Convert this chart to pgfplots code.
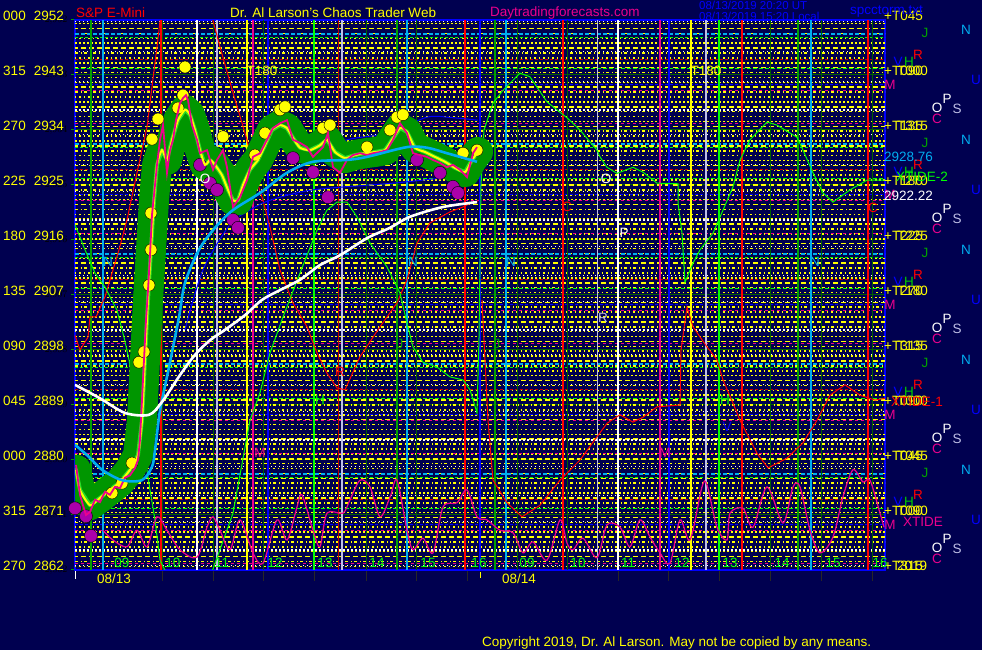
\documentclass[border=0pt]{standalone}
\usepackage{pgfplots}
\pgfplotsset{compat=1.18}
\usepackage{fontspec}
\setmainfont{Liberation Sans}

\definecolor{bg}{RGB}{0,0,80}
\definecolor{lime}{RGB}{0,255,0}
\definecolor{dkgreen}{RGB}{0,95,0}
\definecolor{midgreen}{RGB}{0,160,0}
\definecolor{glow}{RGB}{0,150,0}
\definecolor{glowin}{RGB}{40,220,40}
\definecolor{purp}{RGB}{170,0,170}
\definecolor{pale}{RGB}{190,190,230}
\definecolor{myblue}{RGB}{0,0,255}
\definecolor{dimred}{RGB}{190,0,0}
\definecolor{yel}{RGB}{255,255,0}

% vertical line at x, horizontal lines at a list of prices
\newcommand\vl[2]{\addplot[#1] coordinates {(#2,2862) (#2,2952)};}
\newcommand\hl[2]{\pgfplotsinvokeforeach{#2}{\addplot[#1] coordinates {(75,##1) (885,##1)};}}
\newcommand\txt{\fontsize{13.5}{14}\selectfont}

\begin{document}
\begin{tikzpicture}
\fill[bg] (-75pt,-80pt) rectangle (907pt,570pt);
\path[use as bounding box] (-75pt,-80pt) rectangle (907pt,570pt);
\begin{axis}[
  at={(0pt,0pt)}, anchor=south west,
  width=810pt, height=550pt, scale only axis,
  xmin=75, xmax=885, ymin=2862, ymax=2952,
  axis line style={myblue, line width=2pt},
  clip mode=individual,
  xtick=\empty,
  ytick={2862,2871,...,2952}, yticklabel={},
  ytick pos=left, tick align=outside, major tick length=4pt,
  ytick style={midgreen, line width=1pt},
  ymajorgrids, grid style={dkgreen, line width=1pt},
]
% dotted yellow level lines
\hl{yel, line width=1.5pt, dash pattern=on 2pt off 2pt}{2951.4,2948.2,2945.0,2941.8,2938.6,2935.4,2932.2,2929.0,2925.8,2922.6,2919.4,2916.2,2913.0,2909.8,2906.6,2903.4,2900.2,2897.0,2893.8,2890.6,2887.4,2884.2,2881.0,2877.8,2874.6,2871.4,2868.2,2865.0}
\hl{yel, line width=1.5pt, dash pattern=on 5pt off 3pt, dash phase=2pt}{2950.6,2947.4,2944.2,2941.0,2937.8,2934.6,2931.4,2928.2,2925.0,2921.8,2918.6,2915.4,2912.2,2909.0,2905.8,2902.6,2899.4,2896.2,2893.0,2889.8,2886.6,2883.4,2880.2,2877.0,2873.8,2870.6,2867.4,2864.2}
\hl{yel, line width=1.5pt, dash pattern=on 3pt off 3pt on 1pt off 2pt}{2949.8,2946.6,2943.4,2940.2,2937.0,2933.8,2930.6,2927.4,2924.2,2921.0,2917.8,2914.6,2911.4,2908.2,2905.0,2901.8,2898.6,2895.4,2892.2,2889.0,2885.8,2882.6,2879.4,2876.2,2873.0,2869.8,2866.6,2863.4}
\hl{yel, line width=1.5pt, dash pattern=on 1.5pt off 3pt}{2949.0,2945.8,2942.6,2939.4,2936.2,2933.0,2929.8,2926.6,2923.4,2920.2,2917.0,2913.8,2910.6,2907.4,2904.2,2901.0,2897.8,2894.6,2891.4,2888.2,2885.0,2881.8,2878.6,2875.4,2872.2,2869.0,2865.8,2862.6}
\hl{white, line width=1.2pt, dash pattern=on 1pt off 3pt}{2951.8,2946.8,2942.0,2933.2,2928.4,2924.0,2915.0,2910.2,2906.0,2897.2,2892.4,2888.0,2879.0,2874.2,2870.0,2862.8}
% coloured harmonic levels
\hl{cyan, line width=1.2pt, dash pattern=on 4pt off 2pt}{2949.7,2931.7,2913.7,2895.7,2877.7}
\hl{lime, line width=1.2pt, dash pattern=on 3pt off 2pt}{2949.1,2931.1,2913.1,2895.1,2877.1}
\hl{dimred, line width=1.2pt, dash pattern=on 3pt off 2pt}{2945.5,2927.5,2909.5,2891.5,2873.5}
\hl{lime, line width=1.2pt, dash pattern=on 4pt off 2pt}{2944.1,2926.1,2908.1,2890.1,2872.1}
\hl{myblue, line width=1.2pt, dash pattern=on 3pt off 2pt}{2941.4,2923.4,2905.4,2887.4,2869.4}
\hl{magenta, line width=1.2pt, dash pattern=on 3pt off 3pt}{2940.5,2922.5,2904.5,2886.5,2868.5}
\hl{white, line width=1.5pt, dash pattern=on 2pt off 2pt}{2937.3,2919.3,2901.3,2883.3,2865.3}
\hl{magenta, line width=1.2pt, dash pattern=on 3pt off 3pt}{2935.1,2917.1,2899.1,2881.1,2863.1}
% hour grid
\vl{dkgreen, line width=1pt}{162} \vl{dkgreen, line width=1pt}{213} \vl{dkgreen, line width=1pt}{263}
\vl{dkgreen, line width=1pt}{366} \vl{dkgreen, line width=1pt}{416} \vl{dkgreen, line width=1pt}{517}
\vl{dkgreen, line width=1pt}{567} \vl{dkgreen, line width=1pt}{668} \vl{dkgreen, line width=1pt}{770}
\vl{dkgreen, line width=1pt}{821} \vl{dkgreen, line width=1pt}{872}
% time lines
\vl{midgreen, line width=1.2pt}{91} \vl{cyan, line width=1.2pt}{103} \vl{red, line width=1.4pt}{161}
\vl{white, line width=1.2pt}{197} \vl{pale, line width=1.2pt}{217} \vl{yel, line width=1.4pt}{247}
\vl{magenta, line width=1.4pt}{253} \vl{myblue, line width=1.4pt}{268} \vl{lime, line width=1.2pt}{314}
\vl{dimred, line width=1pt}{338} \vl{pale, line width=1.2pt}{342} \vl{midgreen, line width=1.2pt}{397}
\vl{cyan, line width=1.2pt}{407} \vl{red, line width=1.4pt}{465} \vl{myblue, line width=1.6pt}{480}
\vl{midgreen, line width=1.2pt}{495} \vl{cyan, line width=1.2pt}{506} \vl{red, line width=1.2pt}{563}
\vl{pale, line width=1pt}{597} \vl{white, line width=1.2pt}{618}
\vl{magenta, line width=1.2pt}{660} \vl{myblue, line width=1.2pt}{669} \vl{yel, line width=1.4pt}{691}
\vl{pale, line width=1.2pt}{706} \vl{lime, line width=1.2pt}{719} \vl{red, line width=1.2pt}{742}
\vl{midgreen, line width=1.2pt}{798} \vl{cyan, line width=1.4pt}{811} \vl{red, line width=1.2pt}{868}
% forecast lines
\addplot[red, line width=1pt] coordinates {(75,2900.4) (80,2898.0) (88,2900.1) (90,2903.4) (96,2903.4) (105,2906.7) (119,2914.4) (127,2919.3) (137,2927.0) (147,2934.5) (157,2947.6) (162,2954.5)};
\addplot[red, line width=1pt] coordinates {(210,2955) (212,2952.5) (220,2947.6) (233,2940.1) (247,2932.4) (258,2925.0) (263,2922.5) (270,2918.1) (280,2911.1) (293,2905.7) (307,2901.8) (317,2897.5) (327,2894.2) (337,2891.8) (345,2891.5) (360,2896.9) (380,2901.8) (397,2905.7) (407,2909.5) (417,2915.5) (430,2918.8) (450,2920.6) (463,2921.4) (470,2922.0) (478,2922.4)};
\addplot[red, line width=1pt] coordinates {(482,2906.2) (488,2886.5) (493,2876.7) (507,2873.0) (522,2870.7) (540,2872.6) (560,2876.7) (580,2880.0) (597,2883.8) (607,2886.0) (620,2887.4) (633,2886.2) (643,2887.0) (657,2888.7) (680,2889.0) (681,2898.0) (687,2905.0) (693,2901.8) (707,2898.5) (717,2896.4) (723,2893.1) (733,2889.3) (740,2886.5) (757,2881.1) (768,2878.7) (787,2880.3) (803,2882.8) (817,2886.5) (830,2890.6) (845,2892.3) (860,2890.6) (875,2889.8) (885,2890.1)};
\addplot[lime, line width=1pt] coordinates {(75,2918.5) (85,2914.4) (95,2910.6) (105,2908.3) (117,2904.5) (124,2900.1) (129,2896.4) (134,2891.5) (140,2886.1) (145,2880.5) (150,2875.1) (155,2870.2) (160,2863.6) (168,2861.0) (205,2861.0) (212,2861.7) (233,2871.3) (250,2886.5) (260,2891.0) (270,2897.5) (283,2903.4) (300,2910.6) (317,2917.6) (327,2920.9) (337,2922.2) (347,2922.2) (357,2919.8) (370,2915.5) (387,2911.6) (400,2907.3) (407,2902.4) (413,2898.5) (423,2896.0) (437,2895.2) (450,2893.6) (463,2893.1) (470,2891.5) (477,2887.7) (479,2900.0) (481,2925.0) (484,2934.0) (493,2938.4) (503,2940.5) (520,2943.3) (530,2942.7) (547,2938.6) (567,2936.0) (580,2934.0) (597,2930.7) (600,2929.6) (607,2927.9) (617,2926.9) (633,2927.9) (643,2927.1) (657,2925.3) (678,2925.2) (678,2922.1) (682,2917.1) (685,2909.1) (693,2912.2) (700,2914.4) (713,2917.1) (723,2920.9) (733,2924.7) (740,2929.1) (750,2932.4) (767,2935.3) (777,2934.8) (797,2932.8) (803,2930.7) (813,2927.0) (823,2923.7) (833,2922.2) (850,2924.2) (867,2925.8) (885,2925.8)};
\addplot[myblue, line width=1pt, smooth] coordinates {(185,2901.3) (203,2911.1) (230,2918.5) (250,2920.9) (270,2922.5) (313,2924.2) (393,2925.3) (440,2926.1) (478,2926.6)};
\addplot[myblue, line width=1pt, smooth] coordinates {(300,2929.5) (347,2932.4) (390,2933.5) (427,2936.1) (453,2936.0) (478,2935.6)};
\addplot[magenta, line width=1.2pt, smooth, tension=0.5] coordinates {(103,2868.5) (113,2866.9) (127,2865.8) (137,2868.5) (147,2865.8) (157,2870.7) (167,2868.5) (180,2865.3) (197,2864.1) (207,2869.0) (213,2870.7) (220,2868.5) (230,2865.3) (240,2870.2) (253,2864.8) (263,2863.1) (277,2870.2) (287,2866.9) (297,2872.3) (302,2874.3) (313,2868.5) (320,2865.8) (327,2871.3) (343,2871.3) (350,2873.5) (360,2876.7) (370,2875.6) (380,2870.7) (390,2873.9) (397,2876.7) (407,2868.5) (413,2865.3) (423,2867.2) (433,2864.8) (443,2872.3) (457,2873.0) (467,2875.1) (477,2870.7) (487,2870.2) (500,2868.5) (513,2868.1) (523,2864.8) (533,2866.6) (547,2863.6) (560,2870.2) (567,2866.4) (573,2865.3) (583,2867.2) (597,2864.0) (607,2869.4) (620,2869.0) (630,2865.8) (640,2870.2) (650,2867.4) (660,2864.8) (670,2863.1) (680,2870.2) (690,2866.9) (702,2875.6) (707,2875.9) (717,2869.0) (727,2866.9) (730,2871.3) (743,2872.1) (753,2869.0) (767,2875.6) (783,2869.7) (793,2875.6) (800,2875.6) (810,2868.5) (820,2864.8) (833,2867.4) (843,2874.0) (853,2878.4) (863,2876.4) (870,2876.7) (880,2871.3) (884,2869.0)};
% price glow
\addplot[glow, line width=30pt, line join=round, line cap=round] coordinates {(76,2878.4) (80,2875.1) (90,2872.6) (100,2873.8) (110,2875.1) (120,2876.4) (130,2878.4) (138,2880.8) (142,2886.5) (145,2896.4) (148,2906.2) (151,2914.4) (154,2922.5) (157,2928.3) (162,2930.7) (167,2929.1) (172,2932.4) (178,2935.6) (185,2937.3) (190,2936.5) (195,2934.0) (200,2930.7) (205,2928.3) (210,2929.1) (215,2928.3) (222,2926.6) (228,2924.2) (233,2922.5) (238,2922.5) (243,2925.0) (250,2927.5) (258,2929.1) (265,2931.5) (272,2934.0) (280,2934.8) (287,2934.3) (293,2932.7) (300,2931.1) (310,2930.7) (320,2931.5) (327,2932.4) (335,2930.4) (345,2929.4) (355,2929.9) (365,2930.2) (375,2930.4) (385,2930.7) (392,2932.4) (400,2934.3) (407,2933.7) (415,2931.1) (425,2930.4) (435,2929.6) (445,2928.8) (455,2927.8) (465,2927.1) (472,2929.1) (478,2930.4)};
\addplot[glowin, line width=4pt, line join=round, line cap=round] coordinates {(76,2878.4) (80,2875.1) (90,2872.6) (100,2873.8) (110,2875.1) (120,2876.4) (130,2878.4) (138,2880.8) (142,2886.5) (145,2896.4) (148,2906.2) (151,2914.4) (154,2922.5) (157,2928.3) (162,2930.7) (167,2929.1) (172,2932.4) (178,2935.6) (185,2937.3) (190,2936.5) (195,2934.0) (200,2930.7) (205,2928.3) (210,2929.1) (215,2928.3) (222,2926.6) (228,2924.2) (233,2922.5) (238,2922.5) (243,2925.0) (250,2927.5) (258,2929.1) (265,2931.5) (272,2934.0) (280,2934.8) (287,2934.3) (293,2932.7) (300,2931.1) (310,2930.7) (320,2931.5) (327,2932.4) (335,2930.4) (345,2929.4) (355,2929.9) (365,2930.2) (375,2930.4) (385,2930.7) (392,2932.4) (400,2934.3) (407,2933.7) (415,2931.1) (425,2930.4) (435,2929.6) (445,2928.8) (455,2927.8) (465,2927.1) (472,2929.1) (478,2930.4)};
% dots
\addplot[only marks, mark=*, mark size=6.5pt, mark options={draw=none, fill=purp}] coordinates {(75,2872.1) (86,2870.8) (91,2867.6) (200,2928.3) (210,2925.3) (217,2924.2) (233,2919.3) (238,2918.0) (293,2929.4) (313,2927.1) (328,2923.0) (417,2929.1) (440,2927.0) (453,2924.7) (458,2923.7)};
\addplot[only marks, mark=*, mark size=6pt, mark options={draw=none, fill=yel}] coordinates {(112,2874.6) (122,2876.2) (132,2879.5) (139,2896.0) (144,2897.7) (149,2908.6) (151,2914.4) (151,2920.4) (152,2932.5) (158,2935.8) (178,2937.6) (183,2939.7) (185,2944.3) (223,2932.9) (255,2929.9) (265,2933.5) (280,2937.3) (285,2937.8) (323,2934.3) (330,2934.8) (367,2931.2) (390,2934.0) (397,2936.1) (403,2936.5) (463,2930.2) (477,2930.7)};
% smoothed price and close
\addplot[yel, line width=2pt, smooth, tension=0.4] coordinates {(76,2878.4) (80,2875.1) (90,2872.6) (100,2873.8) (110,2875.1) (120,2876.4) (130,2878.4) (138,2880.8) (142,2886.5) (145,2896.4) (148,2906.2) (151,2914.4) (154,2922.5) (157,2928.3) (162,2930.7) (167,2929.1) (172,2932.4) (178,2935.6) (185,2937.3) (190,2936.5) (195,2934.0) (200,2930.7) (205,2928.3) (210,2929.1) (215,2928.3) (222,2926.6) (228,2924.2) (233,2922.5) (238,2922.5) (243,2925.0) (250,2927.5) (258,2929.1) (265,2931.5) (272,2934.0) (280,2934.8) (287,2934.3) (293,2932.7) (300,2931.1) (310,2930.7) (320,2931.5) (327,2932.4) (335,2930.4) (345,2929.4) (355,2929.9) (365,2930.2) (375,2930.4) (385,2930.7) (392,2932.4) (400,2934.3) (407,2933.7) (415,2931.1) (425,2930.4) (435,2929.6) (445,2928.8) (455,2927.8) (465,2927.1) (472,2929.1) (478,2930.4)};
\addplot[magenta, line width=1.8pt] coordinates {(76,2879.2) (78,2876.7) (80,2874.3) (83,2872.6) (86,2871.0) (90,2871.5) (95,2873.5) (100,2873.1) (105,2874.8) (110,2874.3) (115,2875.6) (120,2875.4) (125,2877.1) (130,2877.5) (135,2878.7) (138,2880.0) (140,2883.3) (142,2889.8) (144,2896.4) (146,2902.9) (148,2907.8) (150,2913.5) (152,2920.1) (155,2925.0) (157,2928.3) (160,2932.4) (163,2934.8) (167,2927.0) (170,2930.7) (173,2932.4) (176,2935.6) (180,2938.4) (183,2939.2) (186,2939.7) (188,2938.9) (192,2934.8) (197,2932.4) (200,2930.2) (207,2930.7) (213,2927.5) (217,2929.1) (223,2930.7) (227,2927.9) (233,2921.4) (240,2923.0) (247,2925.8) (253,2929.6) (260,2930.2) (267,2932.4) (273,2934.3) (280,2935.1) (287,2935.6) (293,2932.4) (300,2931.9) (307,2931.2) (313,2929.6) (318,2930.4) (323,2931.2) (328,2933.5) (333,2927.9) (340,2927.0) (347,2929.1) (353,2929.9) (360,2930.2) (367,2929.9) (373,2930.2) (380,2930.4) (387,2930.7) (393,2932.4) (400,2935.1) (407,2933.5) (413,2930.2) (420,2929.9) (427,2929.6) (433,2929.1) (440,2928.6) (447,2927.9) (453,2928.3) (460,2927.5) (467,2926.3) (473,2930.2) (477,2931.2)};
% averages
\addplot[cyan, line width=2.6pt, smooth, tension=0.5] coordinates {(75,2882.5) (89,2880.5) (102,2878.4) (122,2876.7) (142,2876.7) (152,2878.9) (155,2881.6) (159,2887.0) (162,2889.8) (169,2895.2) (179,2903.4) (185,2909.0) (199,2914.4) (215,2918.0) (233,2920.9) (260,2923.7) (287,2927.0) (313,2928.8) (347,2929.1) (367,2929.6) (407,2931.2) (427,2931.1) (447,2930.2) (477,2928.8)};
\addplot[white, line width=2.6pt, smooth, tension=0.5] coordinates {(75,2892.3) (100,2890.1) (125,2887.7) (149,2887.4) (162,2889.5) (180,2893.9) (195,2897.2) (210,2899.6) (225,2901.3) (245,2903.7) (262,2906.2) (280,2907.8) (300,2909.5) (320,2911.9) (340,2913.5) (367,2916.3) (390,2918.0) (410,2919.8) (443,2921.4) (477,2922.2)};
\end{axis}

% text, placed in screen pixels (x right, y down)
\begin{scope}[x=1pt, y=-1pt, shift={(-75pt,570pt)}, every node/.style={inner sep=0pt}]
\foreach \a/\b [count=\k from 0] in {000/2952,315/2943,270/2934,225/2925,180/2916,135/2907,090/2898,045/2889,000/2880,315/2871,270/2862}
  \node[anchor=east, yel] at (64,15.5+55*\k) {\txt\a\hspace{8pt}\b};
\foreach \p/\s [count=\k from 0] in {+T045/{},+T090/T000,+T135/T315,+T180/T270,+T225/T225,+T270/T180,+T315/T135,+T090/T000,+T045/T045,+T000/T090,+T315/2019}{
  \node[anchor=west, yel] at (884,15.5+55*\k) {\txt\p};
  \node[anchor=west, yel] at (897,15.5+55*\k) {\txt\s};
}
\foreach \k in {0,...,4}{
  \node[midgreen] at (925,33+110*\k) {\txt J};
  \node[cyan] at (966,30+110*\k) {\txt N};
  \node[red] at (918,55+110*\k) {\txt R};
  \node[myblue] at (898,62+110*\k) {\txt V};
  \node[lime!80!black] at (909,62+110*\k) {\txt H};
  \node[myblue] at (976,80+110*\k) {\txt U};
  \node[magenta] at (890,85+110*\k) {\txt M};
  \node[white] at (937,108+110*\k) {\txt O};
  \node[white] at (947,99+110*\k) {\txt P};
  \node[pale] at (957,109+110*\k) {\txt S};
  \node[magenta] at (937,119+110*\k) {\txt C};
}
\node[anchor=west, cyan] at (884,157) {\txt 2928.76};
\node[anchor=west, lime] at (896,177) {\txt XTIDE-2};
\node[anchor=west, white] at (884,196) {\txt 2922.22};
\node[anchor=west, red] at (891,402) {\txt XTIDE-1};
\node[anchor=west, magenta] at (903,522) {\txt XTIDE};
% titles
\node[anchor=west, red] at (76,13) {\txt S\&P E-Mini};
\node[anchor=west, yel] at (230,13) {\txt Dr. Al Larson's Chaos Trader Web};
\node[anchor=west, magenta] at (490,13) {\txt Daytradingforecasts.com};
\node[anchor=west, myblue] at (699,5) {\fontsize{11.5}{12}\selectfont 08/13/2019 20:20 UT};
\node[anchor=west, myblue] at (699,16) {\fontsize{11.5}{12}\selectfont 08/13/2019 15:20 Local};
\node[anchor=west, myblue] at (850,12) {\txt spcctorm.txt};
% in-chart marks
\node[yel] at (262,71) {\txt T180};
\node[yel] at (706,71) {\txt T180};
\foreach \x in {108,413,511,815} \node[cyan] at (\x,262) {\txt N};
\foreach \x in {205,606} \node[white] at (\x,179) {\txt O};
\node[white] at (624,233) {\txt P};
\node[pale] at (603,318) {\txt R};
\node[red] at (340,372) {\txt R};
\foreach \x in {400,497} \node[midgreen] at (\x,344) {\txt J};
\foreach \x in {320,725} \node[lime] at (\x,400) {\txt H};
\node[myblue] at (727,427) {\txt V};
\foreach \x in {260,665} \node[magenta] at (\x,453) {\txt M};
\node[red] at (567,207) {\txt C};
\node[red] at (873,208) {\txt C};
% hours
\foreach \x/\h in {122/09,173/10,222/11,275/12,325/13,377/14,428/15,479/16,527/09,578/10,628/11,682/12,730/13,782/14,833/15,880/16}
  \node[lime] at (\x,563) {\txt\h};
\foreach \x in {162,213,263,314,366,416,467,618,668,719,770,821,872}
  \draw[black!85, line width=1pt] (\x,571) -- (\x,581);
\draw[white, line width=1pt] (75,571) -- (75,579);
\draw[yel, line width=1pt] (480,572) -- (480,578);
\node[yel] at (114,579) {\txt 08/13};
\node[yel] at (519,579) {\txt 08/14};
\node[anchor=west, yel] at (482,643) {\txt Copyright 2019, Dr. Al Larson. May not be copied by any means.};
\end{scope}
\end{tikzpicture}
\end{document}
